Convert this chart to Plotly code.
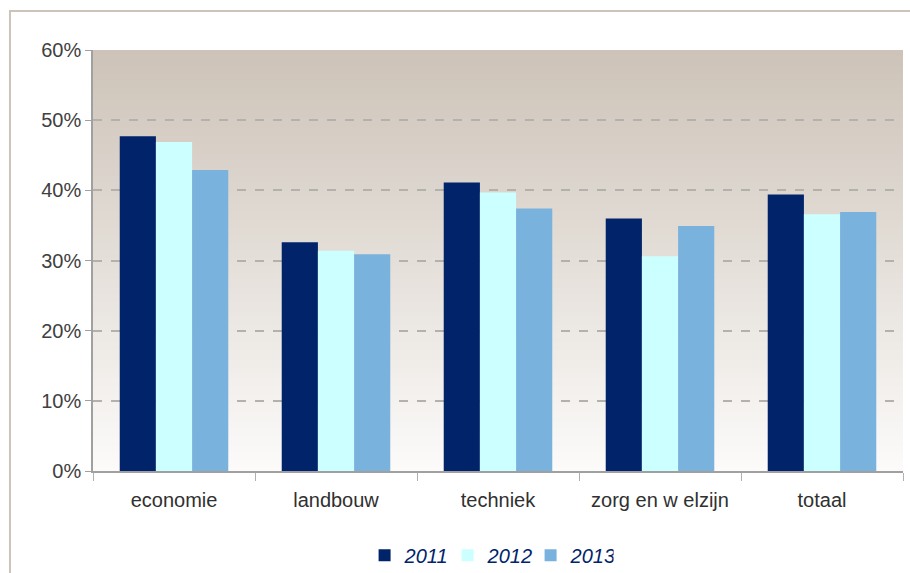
import base64
import struct
import zlib

import plotly.graph_objects as go

categories = ["economie", "landbouw", "techniek", "zorg en w elzijn", "totaal"]
years = ["2011", "2012", "2013"]
values_2011 = [0.477, 0.326, 0.411, 0.360, 0.394]
values_2012 = [0.469, 0.314, 0.397, 0.306, 0.366]
values_2013 = [0.429, 0.309, 0.374, 0.349, 0.369]
y_ticks = [0, 0.1, 0.2, 0.3, 0.4, 0.5, 0.6]
y_tick_labels = ["0%", "10%", "20%", "30%", "40%", "50%", "60%"]

colors = ["#00236A", "#CCFFFF", "#7AB2DE"]
font = "Liberation Sans, Arial, sans-serif"


def gradient_png(top, bottom, h=256):
    # 1 px wide vertical gradient, stretched over the plot area
    raw = b""
    for i in range(h):
        t = i / (h - 1)
        px = bytes(round(a + (b - a) * t) for a, b in zip(top, bottom))
        raw += b"\x00" + px

    def chunk(tag, data):
        c = struct.pack(">I", len(data)) + tag + data
        return c + struct.pack(">I", zlib.crc32(tag + data) & 0xFFFFFFFF)

    png = b"\x89PNG\r\n\x1a\n"
    png += chunk(b"IHDR", struct.pack(">IIBBBBB", 1, h, 8, 2, 0, 0, 0))
    png += chunk(b"IDAT", zlib.compress(raw))
    png += chunk(b"IEND", b"")
    return "data:image/png;base64," + base64.b64encode(png).decode()


fig = go.Figure()
for year, vals, col in zip(years, [values_2011, values_2012, values_2013], colors):
    fig.add_trace(
        go.Bar(
            x=categories,
            y=vals,
            name=f"<i>{year}</i>",
            marker_color=col,
            marker_line_width=0,
        )
    )

fig.update_layout(
    width=910,
    height=573,
    margin=dict(l=93, r=7, t=50, b=102, autoexpand=False),
    paper_bgcolor="white",
    plot_bgcolor="rgba(0,0,0,0)",
    barmode="group",
    bargap=0.33,
    bargroupgap=0,
    images=[
        dict(
            source=gradient_png((205, 195, 184), (252, 251, 250)),
            xref="paper",
            yref="paper",
            x=0,
            y=1,
            sizex=1,
            sizey=1,
            sizing="stretch",
            xanchor="left",
            yanchor="top",
            layer="below",
        )
    ],
    shapes=[
        # outer frame
        dict(
            type="rect",
            xref="paper",
            yref="paper",
            x0=-0.1025,
            x1=1.05,
            y0=-0.4,
            y1=1.0926,
            line=dict(color="#CDC3B8", width=2),
            fillcolor="rgba(0,0,0,0)",
            layer="below",
        )
    ],
    font=dict(family=font, size=20, color="#404040"),
    legend=dict(
        orientation="h",
        x=0.489,
        xanchor="center",
        y=-0.2,
        yanchor="middle",
        font=dict(family=font, size=20, color="#00236A"),
        itemwidth=30,
        entrywidth=38,
        traceorder="normal",
    ),
)

fig.update_xaxes(
    automargin=False,
    showline=True,
    linecolor="#A0A0A0",
    linewidth=1.5,
    ticks="outside",
    tickson="boundaries",
    ticklen=8,
    tickcolor="#B0B0B0",
    ticklabelstandoff=10,
    tickfont=dict(size=20, color="#303030"),
    showgrid=False,
)
fig.update_yaxes(
    automargin=False,
    range=[0, 0.6],
    tickvals=y_ticks,
    ticktext=y_tick_labels,
    showline=True,
    linecolor="#A0A0A0",
    linewidth=1.5,
    ticks="outside",
    ticklen=6,
    tickcolor="#A0A0A0",
    showgrid=True,
    gridcolor="#B4B0AC",
    griddash="dash",
    gridwidth=2,
    zeroline=False,
    tickfont=dict(size=20, color="#404040"),
)

# page body has a default 8px margin; drop it so the figure fills the window
fig.write_html(
    "out.html",
    config={"displayModeBar": False},
    post_script="document.body.style.margin='0';document.body.style.overflow='hidden';",
)
